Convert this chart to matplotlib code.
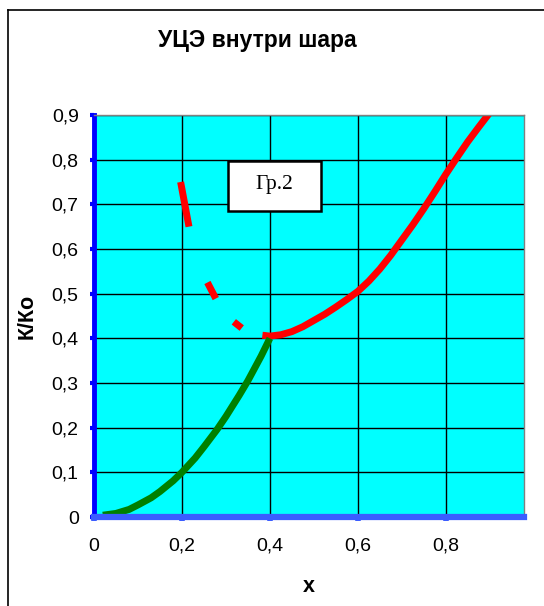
import numpy as np
import matplotlib
matplotlib.use("Agg")
import matplotlib.pyplot as plt
from matplotlib.lines import Line2D
from matplotlib.patches import Rectangle

plt.rcParams['font.family'] = ['Liberation Sans', 'DejaVu Sans']

# data
green_x = [0.02, 0.05, 0.08, 0.10, 0.13, 0.15, 0.18, 0.20, 0.23, 0.25, 0.28, 0.30, 0.33, 0.35, 0.38, 0.40]
green_y = [0.004, 0.008, 0.017, 0.027, 0.043, 0.057, 0.081, 0.100, 0.132, 0.157, 0.196, 0.225, 0.272, 0.305, 0.360, 0.400]

red_x = [0.383, 0.40, 0.425, 0.45, 0.475, 0.50, 0.525, 0.55, 0.575, 0.60, 0.625, 0.65,
         0.675, 0.70, 0.725, 0.75, 0.775, 0.80, 0.825, 0.85, 0.875, 0.90]
red_y = [0.407, 0.405, 0.408, 0.415, 0.426, 0.440, 0.454, 0.470, 0.487, 0.505, 0.528, 0.555,
         0.586, 0.620, 0.654, 0.690, 0.728, 0.767, 0.804, 0.840, 0.873, 0.905]

# dashed branch: start/end of each visible dash
dash_x = [0.197, 0.216, 0.258, 0.277, 0.318, 0.336]
dash_y = [0.750, 0.650, 0.525, 0.489, 0.437, 0.423]

y_ticks = [0, 0.1, 0.2, 0.3, 0.4, 0.5, 0.6, 0.7, 0.8, 0.9]
x_ticks = [0, 0.2, 0.4, 0.6, 0.8]

title = "УЦЭ внутри шара"
note = "Гр.2"

W, H = 544, 606
fig = plt.figure(figsize=(W / 100, H / 100), dpi=100)
ax = fig.add_axes([94 / W, 89 / H, 430 / W, 402 / H])
ax.set_facecolor('#00ffff')
ax.set_xlim(0, 0.978)
ax.set_ylim(0, 0.9)

# grid
ax.set_xticks(x_ticks)
ax.set_yticks(y_ticks)
ax.grid(True, color='black', linewidth=1.0, zorder=1)
ax.set_axisbelow(True)

def fmt(v):
    return ('%g' % v).replace('.', ',')

ax.set_xticklabels([fmt(v) for v in x_ticks], fontsize=14)
ax.set_yticklabels([fmt(v) for v in y_ticks], fontsize=14)

# curves
ax.plot(red_x, red_y, color='#ff0000', linewidth=5, solid_capstyle='butt',
        solid_joinstyle='round', zorder=3)
for i in range(0, len(dash_x) - 1, 2):
    ax.plot(dash_x[i:i + 2], dash_y[i:i + 2], color='#ff0000', linewidth=5,
            solid_capstyle='butt', zorder=3)
ax.plot(green_x, green_y, color='#008000', linewidth=5, solid_capstyle='butt',
        solid_joinstyle='round', zorder=4)

# spines
for s in ['top', 'right']:
    ax.spines[s].set_color('#808080')
    ax.spines[s].set_linewidth(1.0)
ax.spines['left'].set_color('#0000ff')
ax.spines['left'].set_linewidth(3.5)
ax.spines['bottom'].set_color('#3b5cff')
ax.spines['bottom'].set_linewidth(4.5)
for s in ax.spines.values():
    s.set_zorder(5)

ax.tick_params(axis='y', direction='out', length=3, width=3, color='#0000ff', pad=8)
ax.tick_params(axis='x', direction='out', length=3, width=4, color='#3b5cff', pad=12)

ax.set_xlabel('x', fontsize=15.5, fontweight='bold')
ax.set_ylabel('К/Ко', fontsize=15.5, fontweight='bold')
ax.xaxis.set_label_coords(0.5, -0.174)
ax.yaxis.set_label_coords(-0.156, 0.5)
ax.xaxis.label.set_va('center')
ax.yaxis.label.set_va('center')

# note box
ax.add_patch(Rectangle((0.312, 0.762), 0.216, 0.124, transform=ax.transAxes,
                       facecolor='white', edgecolor='black', linewidth=1.8, zorder=6))
ax.text(0.42, 0.826, note, transform=ax.transAxes, ha='center', va='center',
        fontsize=15.5, family=['Liberation Serif', 'DejaVu Serif'], zorder=7)

fig.text(257 / W, 1 - 40 / H, title, ha='center', va='center', fontsize=16.5,
         fontweight='bold')

# chart border (left and top visible)
fig.add_artist(Line2D([8 / W, 8 / W], [0, 1 - 10 / H], transform=fig.transFigure,
                      color='black', linewidth=1.2))
fig.add_artist(Line2D([8 / W, 1], [1 - 10 / H, 1 - 10 / H], transform=fig.transFigure,
                      color='black', linewidth=1.2))

fig.savefig('out.png', dpi=100)
